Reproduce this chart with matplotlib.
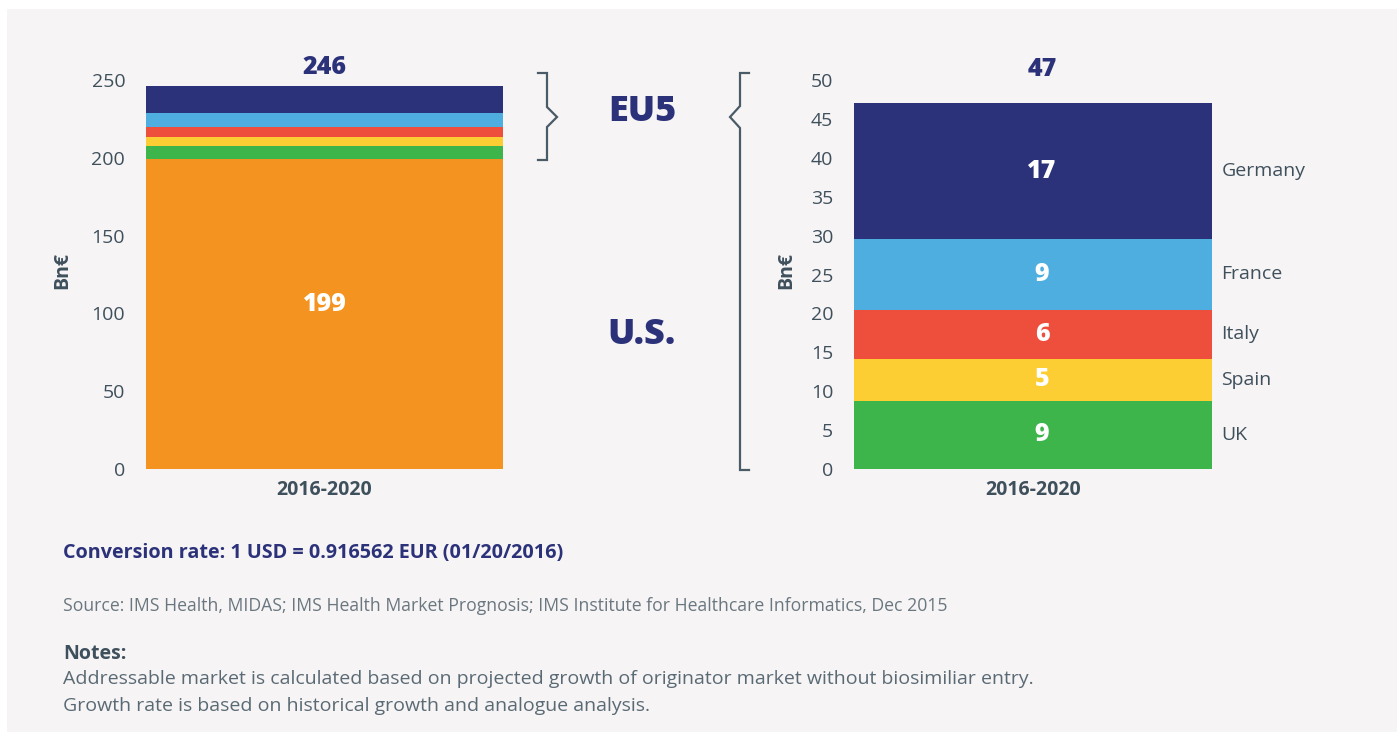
import matplotlib.pyplot as plt
from matplotlib.lines import Line2D
from matplotlib.patches import Rectangle

plt.rcParams['font.family'] = ['Open Sans', 'DejaVu Sans']

# Data (Bn EUR, 2016-2020)
period = ["2016-2020"]
us_value = 199.0
us_label = "U.S."
eu_countries = ["UK", "Spain", "Italy", "France", "Germany"]
eu_values = [8.8, 5.3, 6.4, 9.1, 17.4]
eu_labels = ["9", "5", "6", "9", "17"]
eu_colors = ["#3db54a", "#fdce33", "#ee4f3d", "#4faee0", "#2c327a"]
us_color = "#f4931f"
left_ticks = [0, 50, 100, 150, 200, 250]
right_ticks = [0, 5, 10, 15, 20, 25, 30, 35, 40, 45, 50]

navy = "#2c327a"
grey = "#3f505d"
bg = "#f6f4f4"

W, H = 1397, 732
fig = plt.figure(figsize=(W / 100, H / 100), dpi=100, facecolor="white")
fig.add_artist(Rectangle((7 / W, 0), 1, 1 - 9 / H, transform=fig.transFigure,
                         facecolor=bg, edgecolor="none", zorder=0))


def px(x0, y0, w, h):
    return [x0 / W, 1 - (y0 + h) / H, w / W, h / H]


def style_axis(ax, ticks, ylim, pad, label_x):
    ax.set_facecolor("none")
    ax.set_xlim(-0.4, 0.4)
    ax.set_ylim(*ylim)
    ax.set_yticks(ticks)
    ax.set_xticks([0])
    ax.set_xticklabels(period, fontsize=14, fontweight="bold", color=grey)
    for s in ax.spines.values():
        s.set_visible(False)
    ax.tick_params(axis="y", length=0, pad=pad, labelsize=14, labelcolor=grey)
    ax.tick_params(axis="x", length=0, pad=8)
    ax.set_ylabel("Bn€", fontsize=14, fontweight="bold", color=grey)
    ax.yaxis.set_label_coords(label_x, 0.51)


# Left chart: U.S. + EU5
axl = fig.add_axes(px(146, 80, 357, 389))
axl.bar(0, us_value, width=0.8, color=us_color)
bottom = us_value
for v, c in zip(eu_values, eu_colors):
    axl.bar(0, v, bottom=bottom, width=0.8, color=c)
    bottom += v
total = us_value + sum(eu_values)
axl.text(0, us_value / 2 + 6, f"{us_value:.0f}", ha="center", va="center",
         color="white", fontsize=18, fontweight=800)
axl.text(0, total + 4, f"{total:.0f}", ha="center", va="bottom",
         color=navy, fontsize=18, fontweight=800, clip_on=False)
style_axis(axl, left_ticks, (0, 250), 15, -0.207)

# Right chart: EU5 breakdown
axr = fig.add_axes(px(854, 80, 358, 389))
bottom = 0
for name, v, lab, c in zip(eu_countries, eu_values, eu_labels, eu_colors):
    axr.bar(0, v, bottom=bottom, width=0.8, color=c)
    axr.text(0.02, bottom + v / 2, lab, ha="center", va="center",
             color="white", fontsize=18, fontweight=800)
    axr.text(0.421, bottom + v / 2, name, ha="left", va="center",
             color=grey, fontsize=14, clip_on=False)
    bottom += v
eu_total = sum(eu_values)
axr.text(0.02, eu_total + 2.7, f"{eu_total:.0f}", ha="center", va="bottom",
         color=navy, fontsize=18, fontweight=800, clip_on=False)
style_axis(axr, right_ticks, (0, 50), 15, -0.162)


# Brackets
def bracket(points):
    xs = [p[0] / W for p in points]
    ys = [1 - p[1] / H for p in points]
    fig.add_artist(Line2D(xs, ys, transform=fig.transFigure, color="#4a5b68",
                          lw=1.6, solid_joinstyle="miter"))


bracket([(538, 73), (547, 73), (547, 107), (557, 117), (547, 127),
         (547, 160), (538, 160)])
bracket([(749, 73), (740, 73), (740, 106), (730, 117), (740, 128),
         (740, 470), (749, 470)])

fig.text(642 / W, 1 - 112 / H, "EU5", ha="center", va="center",
         color=navy, fontsize=26, fontweight=800)
fig.text(642 / W, 1 - 335 / H, us_label, ha="center", va="center",
         color=navy, fontsize=26, fontweight=800)

# Footer text
fig.text(63 / W, 1 - 553 / H, "Conversion rate: 1 USD = 0.916562 EUR (01/20/2016)",
         ha="left", va="center", color=navy, fontsize=14.2, fontweight="bold")
fig.text(63 / W, 1 - 606 / H,
         "Source: IMS Health, MIDAS; IMS Health Market Prognosis; IMS Institute for Healthcare Informatics, Dec 2015",
         ha="left", va="center", color="#6a7780", fontsize=12.7)
fig.text(63 / W, 1 - 654 / H, "Notes:", ha="left", va="center",
         color=grey, fontsize=14, fontweight="bold")
fig.text(63 / W, 1 - 679 / H,
         "Addressable market is calculated based on projected growth of originator market without biosimiliar entry.",
         ha="left", va="center", color="#5a6a75", fontsize=14)
fig.text(63 / W, 1 - 706 / H,
         "Growth rate is based on historical growth and analogue analysis.",
         ha="left", va="center", color="#5a6a75", fontsize=14)

fig.savefig("out.png", dpi=100, facecolor=fig.get_facecolor())
